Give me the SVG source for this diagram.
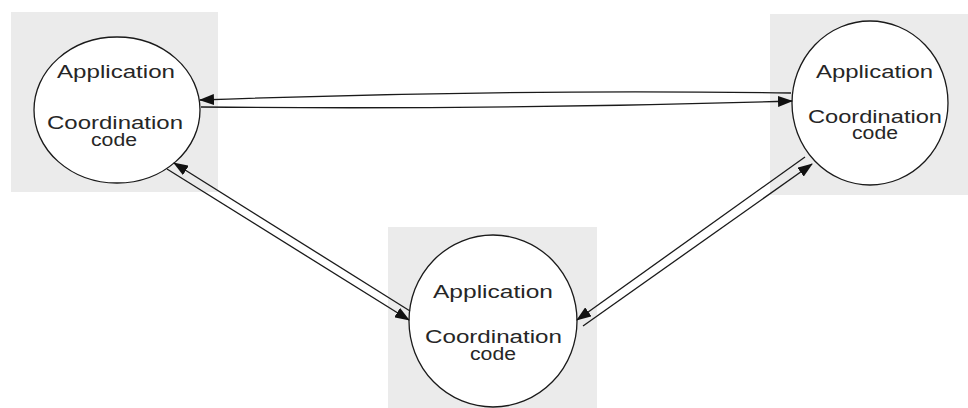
<svg xmlns="http://www.w3.org/2000/svg" width="968" height="408" viewBox="0 0 968 408">
  <style>
    .panel { fill: #ebebeb; }
    .node { fill: #ffffff; stroke: #1a1a1a; stroke-width: 1.3; }
    .label { font-family: "Liberation Sans", Arial, sans-serif; font-size: 17.5px; fill: #262626; text-anchor: middle; }
    .link { fill: none; stroke: #1a1a1a; stroke-width: 1.3; marker-end: url(#head); }
  </style>
  <defs>
    <marker id="head" markerUnits="userSpaceOnUse" markerWidth="15" markerHeight="11" refX="14" refY="5.5" orient="auto">
      <path d="M0,0 L15,5.5 L0,11 Z" fill="#111111"/>
    </marker>
  </defs>

  <rect width="968" height="408" fill="#ffffff"/>

  <!-- left node -->
  <g id="node-left">
    <rect class="panel" x="11" y="12" width="207" height="180"/>
    <ellipse class="node" cx="117" cy="110" rx="83" ry="73"/>
    <text class="label" x="116" y="78" textLength="118" lengthAdjust="spacingAndGlyphs">Application</text>
    <text class="label" x="115" y="129" textLength="136" lengthAdjust="spacingAndGlyphs">Coordination</text>
    <text class="label" x="114" y="146" textLength="46" lengthAdjust="spacingAndGlyphs">code</text>
  </g>

  <!-- right node -->
  <g id="node-right">
    <rect class="panel" x="770" y="14" width="198" height="181"/>
    <ellipse class="node" cx="870" cy="103" rx="78" ry="82"/>
    <text class="label" x="874.5" y="78" textLength="117" lengthAdjust="spacingAndGlyphs">Application</text>
    <text class="label" x="875" y="123" textLength="134" lengthAdjust="spacingAndGlyphs">Coordination</text>
    <text class="label" x="875" y="139" textLength="46" lengthAdjust="spacingAndGlyphs">code</text>
  </g>

  <!-- bottom node -->
  <g id="node-bottom">
    <rect class="panel" x="388" y="227" width="209" height="181"/>
    <ellipse class="node" cx="493" cy="321" rx="84" ry="86"/>
    <text class="label" x="493" y="298" textLength="120" lengthAdjust="spacingAndGlyphs">Application</text>
    <text class="label" x="493.5" y="343" textLength="137" lengthAdjust="spacingAndGlyphs">Coordination</text>
    <text class="label" x="493" y="360" textLength="46" lengthAdjust="spacingAndGlyphs">code</text>
  </g>

  <!-- message links between the nodes -->
  <g id="connectors">
    <path class="link" d="M791,93 Q500,89 200,100"/>
    <path class="link" d="M201,107 Q500,110 792,101"/>
    <path class="link" d="M410,311 L174,163"/>
    <path class="link" d="M167,169 L409,320"/>
    <path class="link" d="M805,157 L577,320"/>
    <path class="link" d="M583,326 L812,164"/>
  </g>
</svg>
